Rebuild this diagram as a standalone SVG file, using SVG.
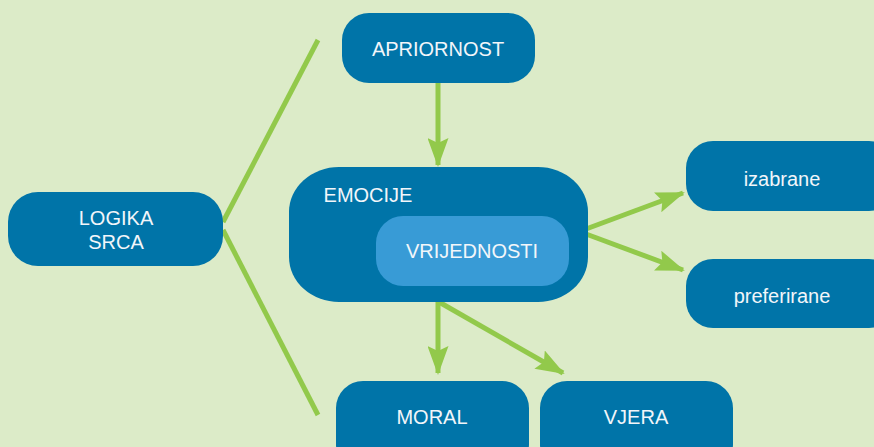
<svg xmlns="http://www.w3.org/2000/svg" width="874" height="447" viewBox="0 0 874 447">
<defs>
<style>
.box{fill:#0074a8;}
.inner{fill:#389bd6;}
.t{fill:#f2f6fa;font-family:"Liberation Sans",Arial,sans-serif;font-size:20px;text-anchor:middle;}
.c{stroke:#92c94b;stroke-width:5;fill:none;}
</style>
<marker id="ah" markerWidth="29" markerHeight="21" viewBox="0 0 29 21" refX="27" refY="10.5" orient="auto" markerUnits="userSpaceOnUse">
<path d="M0,0 L29,10.5 L0,21 L5,10.5 Z" fill="#92c94b"/>
</marker>
</defs>
<rect width="874" height="447" fill="#dcebc8"/>
<g id="connectors">
<line class="c" x1="223" y1="222" x2="318" y2="40"/>
<line class="c" x1="223" y1="230" x2="318" y2="415"/>
<line class="c" x1="438" y1="83" x2="438" y2="165" marker-end="url(#ah)"/>
<line class="c" x1="586" y1="229" x2="683" y2="193" marker-end="url(#ah)"/>
<line class="c" x1="586" y1="234" x2="683" y2="270" marker-end="url(#ah)"/>
<line class="c" x1="438" y1="300" x2="438" y2="373" marker-end="url(#ah)"/>
<line class="c" x1="439" y1="302" x2="563" y2="373" marker-end="url(#ah)"/>
</g>
<g id="apriornost">
<rect class="box" x="342" y="13" width="193" height="70" rx="27" ry="27"/>
<text class="t" x="438" y="56">APRIORNOST</text>
</g>
<g id="emocije">
<rect class="box" x="289" y="167" width="299" height="135" rx="50" ry="45"/>
<text class="t" x="368" y="202">EMOCIJE</text>
</g>
<g id="vrijednosti">
<rect class="inner" x="376" y="216" width="193" height="70" rx="27" ry="27"/>
<text class="t" x="472" y="258">VRIJEDNOSTI</text>
</g>
<g id="logika-srca">
<rect class="box" x="8" y="192" width="215" height="74" rx="30" ry="30"/>
<text class="t" x="116" y="225">LOGIKA</text>
<text class="t" x="116" y="249">SRCA</text>
</g>
<g id="izabrane">
<rect class="box" x="686" y="141" width="210" height="70" rx="27" ry="27"/>
<text class="t" x="782" y="186">izabrane</text>
</g>
<g id="preferirane">
<rect class="box" x="686" y="259" width="210" height="69" rx="27" ry="27"/>
<text class="t" x="782" y="303">preferirane</text>
</g>
<g id="moral">
<rect class="box" x="336" y="381" width="193" height="90" rx="27" ry="27"/>
<text class="t" x="432" y="424">MORAL</text>
</g>
<g id="vjera">
<rect class="box" x="540" y="381" width="193" height="90" rx="27" ry="27"/>
<text class="t" x="636" y="424">VJERA</text>
</g>
</svg>
